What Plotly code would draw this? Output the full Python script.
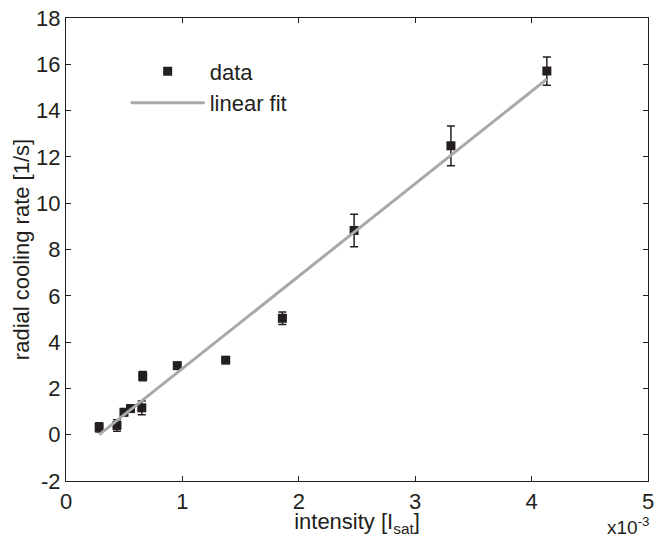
import plotly.graph_objects as go

# intensity in units of 1e-3 I_sat
intensity = [0.285, 0.438, 0.498, 0.554, 0.651, 0.659, 0.956, 1.372, 1.859, 2.475, 3.307, 4.131]
cooling_rate = [0.32, 0.40, 0.97, 1.13, 1.16, 2.53, 2.98, 3.22, 5.03, 8.82, 12.48, 15.71]
rate_err = [0.2, 0.25, 0.15, 0.1, 0.3, 0.2, 0.15, 0.1, 0.27, 0.70, 0.86, 0.61]

fit_x = [0.285, 4.131]
fit_y = [0.0, 15.36]

x_ticks = [0, 1, 2, 3, 4, 5]
y_ticks = [-2, 0, 2, 4, 6, 8, 10, 12, 14, 16, 18]

ink = "#231f20"
font_family = "Liberation Sans, Arial, sans-serif"

fig = go.Figure()
fig.add_trace(go.Scatter(
    x=intensity, y=cooling_rate, mode="markers", name="data",
    marker=dict(symbol="square", size=9, color=ink),
    error_y=dict(type="data", array=rate_err, visible=True, color=ink, thickness=1.5, width=4),
))
fig.add_trace(go.Scatter(
    x=fit_x, y=fit_y, mode="lines", name="linear fit",
    line=dict(color="#a7a9ac", width=3),
))

axis_common = dict(
    showline=True, linecolor=ink, linewidth=1.3, mirror="ticks",
    ticks="inside", ticklen=5, tickwidth=1, tickcolor=ink,
    showgrid=False, zeroline=False,
    tickfont=dict(size=22, color=ink, family=font_family),
)

fig.update_layout(
    width=660, height=537,
    margin=dict(l=66, r=6, t=16, b=56),
    paper_bgcolor="white", plot_bgcolor="white",
    font=dict(family=font_family, color=ink, size=22),
    xaxis=dict(range=[0, 5], tickvals=x_ticks, ticktext=[str(v) for v in x_ticks],
               title=dict(text="intensity [I<sub>sat</sub>]", font=dict(size=22), standoff=0),
               **axis_common),
    yaxis=dict(range=[-2, 18], tickvals=y_ticks, ticktext=[str(v) for v in y_ticks],
               title=dict(text="radial cooling rate [1/s]", font=dict(size=22), standoff=0),
               **axis_common),
    legend=dict(x=0.1025, y=0.93, xanchor="left", yanchor="top",
                bgcolor="rgba(0,0,0,0)", itemwidth=74,
                font=dict(size=22, color=ink, family=font_family),
                tracegroupgap=0),
    showlegend=True,
)

fig.add_annotation(
    x=1.0, y=0, xref="paper", yref="paper", xanchor="right", yanchor="middle",
    yshift=-45, xshift=3,
    text="x10<sup>-3</sup>", showarrow=False,
    font=dict(size=19, color=ink, family=font_family),
)

fig.write_html("out.html", config={"displayModeBar": False},
               post_script="document.body.style.margin='0';document.body.style.padding='0';")
